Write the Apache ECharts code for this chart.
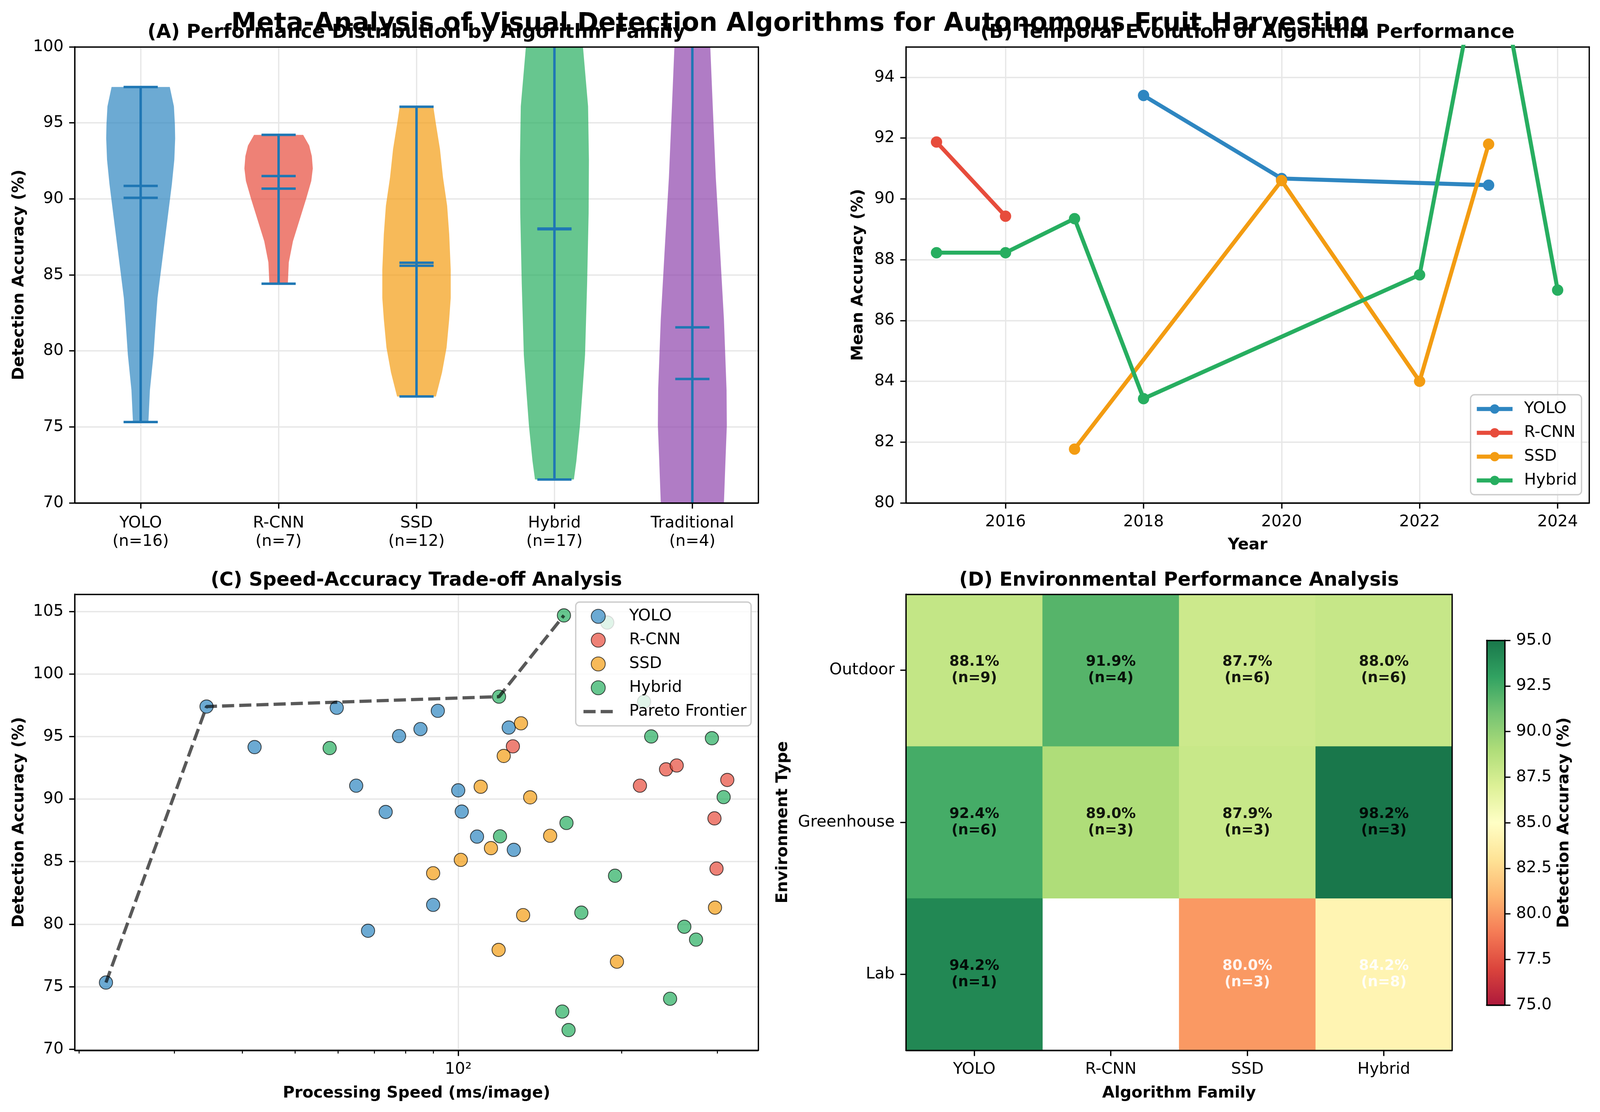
<!DOCTYPE html>
<html><head><meta charset="utf-8">
<script src="https://cdn.jsdelivr.net/npm/echarts@6/dist/echarts.min.js"></script>
<style>html,body{margin:0;padding:0;background:#fff;overflow:hidden}#c{width:100vw;height:2848px}</style>
</head><body><div id="c"></div>
<script>
const families = ['YOLO','R-CNN','SSD','Hybrid','Traditional'];
const familyCounts = [16,7,12,17,4];
const familyColors = ['#2E86C1','#E74C3C','#F39C12','#27AE60','#8E44AD'];

const yoloLevels = [97.36,96.08,94.91,93.98,92.58,90.95,89.08,87.21,85.35,83.48,81.62,79.75,77.42,75.32];
const yoloWidths = [.211,.241,.248,.25,.244,.226,.2,.174,.148,.122,.107,.093,.067,.056];
const rcnnLevels = [94.21,93.51,92.81,92.0,91.18,90.01,88.61,87.21,85.82,84.42];
const rcnnWidths = [.178,.222,.241,.248,.237,.2,.152,.104,.074,.067];
const ssdLevels = [96.06,94.91,93.28,91.41,89.55,87.68,85.35,83.48,82.08,80.22,78.58,77.0];
const ssdWidths = [.122,.141,.17,.192,.222,.237,.248,.248,.237,.218,.185,.141];
const hybridLevels = [104.69,102,100,98.41,96.08,92.58,89.08,84.42,79.75,77.42,75.09,72.75,71.54];
const hybridWidths = [.13,.178,.207,.222,.244,.25,.248,.237,.222,.204,.185,.159,.141];
const tradLevels = [104,100,96.08,91.41,86.75,82.08,77.42,75.09,72.75,70,67,63];
const tradWidths = [.11,.13,.148,.17,.2,.229,.248,.25,.24,.229,.19,.12];
const violinMax = [97.36,94.21,96.06,104.69,104];
const violinMin = [75.32,84.42,77.0,71.54,63];
const violinMedian = [90.85,91.5,85.8,88.0,81.55];
const violinMean = [90.07,90.67,85.6,88.05,78.15];

const yoloTrend = [[2018,93.4],[2020,90.67],[2023,90.45]];
const rcnnTrend = [[2015,91.87],[2016,89.43]];
const ssdTrend = [[2017,81.77],[2020,90.6],[2022,84.0],[2023,91.8]];
const hybridTrend = [[2015,88.23],[2016,88.23],[2017,89.35],[2018,83.43],[2022,87.5],[2023,99.4],[2024,87.0]];

const yoloScatter = [[22.43,75.33],[34.37,97.4],[42.14,94.16],[59.72,97.3],[64.86,91.07],[73.5,88.97],[77.8,95.04],[85.2,95.6],[91.7,97.06],[68.2,79.47],[89.9,81.54],[100,90.7],[101.5,89.0],[108.3,87.0],[123.9,95.72],[126.6,85.94]];
const rcnnScatter = [[126.1,94.22],[216.2,91.07],[241.5,92.38],[252.7,92.69],[296.6,88.46],[299.2,84.44],[313.2,91.53]];
const ssdScatter = [[130.5,96.06],[121.3,93.45],[110,90.99],[135.7,90.14],[147.7,87.07],[114.9,86.08],[101.1,85.14],[89.9,84.07],[131.7,80.72],[118.7,77.94],[196.1,77.0],[297.3,81.32]];
const hybridScatter = [[156.6,104.69],[188.2,104.12],[118.9,98.19],[220,97.79],[226.8,95.01],[293.4,94.87],[57.95,94.08],[308.4,90.16],[158.3,88.09],[119.4,87.02],[194.5,83.87],[168.6,80.92],[261,79.79],[274.3,78.76],[245.7,74.03],[155.5,73.01],[159.7,71.53]];
const paretoFrontier = [[22.43,75.33],[34.37,97.4],[118.9,98.19],[156.6,104.69]];

const envTypes = ['Lab','Greenhouse','Outdoor'];
const heatFamilies = ['YOLO','R-CNN','SSD','Hybrid'];
const labAccuracy = [94.2,null,80.0,84.2];
const greenhouseAccuracy = [92.4,89.0,87.9,98.2];
const outdoorAccuracy = [88.1,91.9,87.7,88.0];
const labCounts = [1,null,3,8];
const greenhouseCounts = [6,3,3,3];
const outdoorCounts = [9,4,6,6];
const rdYlGn = ['#a50026','#d73027','#f46d43','#fdae61','#fee08b','#ffffbf','#d9ef8b','#a6d96a','#66bd63','#1a9850','#006837'];

// The browser window is narrower than the nominal page width: lay out proportionally.
const W = Math.min(window.innerWidth || 4166, 4166);
const kx = W/4166;
const F = 'DejaVu Sans';
const TICK = 41.67*kx, LW = 3.33, TL = 14.6, GRIDC = '#e7e7e7';
const familyLevels = [yoloLevels,rcnnLevels,ssdLevels,hybridLevels,tradLevels];
const familyWidths = [yoloWidths,rcnnWidths,ssdWidths,hybridWidths,tradWidths];

const grids = [
  {left:195*kx,top:120,width:1779*kx,height:1168},
  {left:2359*kx,top:120,width:1779*kx,height:1168},
  {left:195*kx,top:1522,width:1779*kx,height:1168},
  {left:2359*kx,top:1522,width:1422*kx,height:1168},
  {left:3871*kx,top:1640,width:47*kx,height:934}
];
const line = {show:true,onZero:false,lineStyle:{color:'#000',width:LW}};
const tick = (extra)=>Object.assign({show:true,length:TL,lineStyle:{color:'#000',width:LW}},extra||{});
const label = (extra)=>Object.assign({show:true,color:'#000',fontFamily:F,fontSize:TICK,margin:29},extra||{});
const split = (show)=>({show,lineStyle:{color:GRIDC,width:LW}});
const nameStyle = {color:'#000',fontFamily:F,fontSize:TICK,fontWeight:'bold'};

const xAxes = [], yAxes = [];
function spineX(g,position){xAxes.push({gridIndex:g,type:'value',position,min:0,max:1,z:6,axisLine:line,axisTick:{show:false},axisLabel:{show:false},splitLine:{show:false}});}
function spineY(g,position){yAxes.push({gridIndex:g,type:'value',position,min:0,max:1,z:6,axisLine:line,axisTick:{show:false},axisLabel:{show:false},splitLine:{show:false}});}

// A
const aTicks=[1,2,3,4,5];
xAxes.push({gridIndex:0,type:'value',min:0.523,max:5.477,axisLine:line,
  axisTick:tick({customValues:aTicks}),
  axisLabel:label({customValues:aTicks,lineHeight:47,hideOverlap:false,formatter:v=>families[v-1]+'\n(n='+familyCounts[v-1]+')'}),
  splitLine:split(true)});
yAxes.push({gridIndex:0,type:'value',min:70,max:100,interval:5,axisLine:line,axisTick:tick(),axisLabel:label(),splitLine:split(true),
  name:'Detection Accuracy (%)',nameLocation:'middle',nameGap:122,nameTextStyle:nameStyle});
// B
const bxTicks=[2016,2018,2020,2022,2024], byTicks=[80,82,84,86,88,90,92,94];
xAxes.push({gridIndex:1,type:'value',min:2014.558,max:2024.458,axisLine:line,
  axisTick:tick({customValues:bxTicks}),axisLabel:label({customValues:bxTicks,formatter:v=>String(v)}),splitLine:split(true),
  name:'Year',nameLocation:'middle',nameGap:88,nameTextStyle:nameStyle});
yAxes.push({gridIndex:1,type:'value',min:80,max:95,axisLine:line,axisTick:tick({customValues:byTicks}),axisLabel:label({customValues:byTicks}),splitLine:split(true),
  name:'Mean Accuracy (%)',nameLocation:'middle',nameGap:102,nameTextStyle:nameStyle});
// C
const cyTicks=[70,75,80,85,90,95,100,105], cMinor=[20,30,40,50,60,70,80,90,200,300];
xAxes.push({gridIndex:2,type:'log',logBase:10,min:19.66,max:357,axisLine:line,
  axisTick:tick({customValues:[100]}),axisLabel:label({customValues:[100],formatter:()=>'10²'}),splitLine:split(true),minorTick:{show:false},minorSplitLine:{show:false},
  name:'Processing Speed (ms/image)',nameLocation:'middle',nameGap:90,nameTextStyle:nameStyle});
yAxes.push({gridIndex:2,type:'value',min:69.91,max:106.38,axisLine:line,axisTick:tick({customValues:cyTicks}),axisLabel:label({customValues:cyTicks}),splitLine:split(true),
  name:'Detection Accuracy (%)',nameLocation:'middle',nameGap:122,nameTextStyle:nameStyle});
// D
xAxes.push({gridIndex:3,type:'category',data:heatFamilies,axisLine:line,axisTick:tick({alignWithLabel:true}),axisLabel:label(),splitLine:{show:false},
  name:'Algorithm Family',nameLocation:'middle',nameGap:90,nameTextStyle:nameStyle});
yAxes.push({gridIndex:3,type:'category',data:envTypes,axisLine:line,axisTick:tick({alignWithLabel:true}),axisLabel:label(),splitLine:{show:false},
  name:'Environment Type',nameLocation:'middle',nameGap:300*kx,nameTextStyle:nameStyle});
// Colorbar
xAxes.push({gridIndex:4,type:'value',min:0,max:1,axisLine:line,axisTick:{show:false},axisLabel:{show:false},splitLine:{show:false}});
yAxes.push({gridIndex:4,type:'value',position:'right',min:75,max:95,interval:2.5,axisLine:line,axisTick:tick(),axisLabel:label({formatter:v=>v.toFixed(1)}),splitLine:{show:false},
  name:'Detection Accuracy (%)',nameLocation:'middle',nameRotate:90,nameGap:134*kx,nameTextStyle:nameStyle});
// Frame of every plot, above the marks
[0,1,2,3,4].forEach(g=>{spineX(g,'top');spineX(g,'bottom');spineY(g,'left');spineY(g,'right');});
const idx = g=>({xAxisIndex:g,yAxisIndex:g});
// minor ticks on the log axis of panel C
xAxes.push({gridIndex:2,type:'log',logBase:10,min:19.66,max:357,position:'bottom',axisLine:{show:false},
  axisTick:{show:true,length:8.3,lineStyle:{color:'#000',width:2.5},customValues:cMinor},axisLabel:{show:false},splitLine:{show:false},minorTick:{show:false}});

const series = [];
// Violins
series.push({type:'custom',...idx(0),clip:true,z:3,data:aTicks.map(v=>[v]),
  renderItem(params,api){
    const i=params.dataIndex,pos=api.value(0),lv=familyLevels[i],wd=familyWidths[i];
    const L=[],R=[];
    lv.forEach((y,k)=>{L.push(api.coord([pos-wd[k],y]));R.unshift(api.coord([pos+wd[k],y]));});
    const seg=(x0,y0,x1,y1)=>{const a=api.coord([x0,y0]),b=api.coord([x1,y1]);
      return {type:'line',shape:{x1:a[0],y1:a[1],x2:b[0],y2:b[1]},style:{stroke:'#1f77b4',lineWidth:6.25}};};
    const cap=.124;
    const kids=[{type:'polygon',shape:{points:L.concat(R)},style:{fill:familyColors[i],opacity:.7}},
      seg(pos,violinMin[i],pos,violinMax[i]),
      seg(pos-cap,violinMin[i],pos+cap,violinMin[i]),
      seg(pos-cap,violinMax[i],pos+cap,violinMax[i]),
      seg(pos-cap,violinMedian[i],pos+cap,violinMedian[i]),
      seg(pos-cap,violinMean[i],pos+cap,violinMean[i])];
    const r=params.coordSys;
    return {type:'group',children:kids,clipPath:{type:'rect',shape:{x:r.x,y:r.y,width:r.width,height:r.height}}};
  }});
// Trends
[[yoloTrend,0],[rcnnTrend,1],[ssdTrend,2],[hybridTrend,3]].forEach(([d,i])=>{
  series.push({type:'line',name:families[i],...idx(1),data:d,clip:true,z:3+i,
    symbol:'circle',symbolSize:29,showSymbol:true,showAllSymbol:true,
    lineStyle:{color:familyColors[i],width:10.4},itemStyle:{color:familyColors[i]}});
});
// Scatter
[[yoloScatter,0],[rcnnScatter,1],[ssdScatter,2],[hybridScatter,3]].forEach(([d,i])=>{
  series.push({type:'scatter',name:families[i]+' (speed)',...idx(2),data:d,z:3,symbol:'circle',symbolSize:34,
    itemStyle:{color:familyColors[i],opacity:.7,borderColor:'#000',borderWidth:2.1}});
});
series.push({type:'line',name:'Pareto Frontier',...idx(2),data:paretoFrontier,z:4,symbol:'none',
  lineStyle:{color:'#000',opacity:.65,width:8.3,type:[31,13]},itemStyle:{color:'#000',opacity:.65}});
// Heatmap
const heatData=[];
[labAccuracy,greenhouseAccuracy,outdoorAccuracy].forEach((row,r)=>{
  const cnt=[labCounts,greenhouseCounts,outdoorCounts][r];
  row.forEach((v,c)=>{ if(v!==null) heatData.push({value:[c,r,v,cnt[c]],label:{color:v<85?'#fff':'#000'}}); });
});
const heatIndex=series.length;
series.push({type:'heatmap',...idx(3),data:heatData,z:3,itemStyle:{opacity:.9},
  label:{show:true,fontFamily:F,fontSize:37.5*kx,fontWeight:'bold',lineHeight:42,
    formatter:p=>p.value[2].toFixed(1)+'%\n(n='+p.value[3]+')'}});
// Colorbar
series.push({type:'custom',...idx(4),z:3,data:[[0,75,1,95]],
  renderItem(params,api){
    const a=api.coord([api.value(0),api.value(1)]),b=api.coord([api.value(2),api.value(3)]);
    const stops=rdYlGn.map((c,k)=>({offset:k/(rdYlGn.length-1),color:c}));
    return {type:'rect',shape:{x:a[0],y:b[1],width:b[0]-a[0],height:a[1]-b[1]},
      style:{fill:new echarts.graphic.LinearGradient(0,1,0,0,stops),opacity:.9}};
  }});

const titleStyle={color:'#000',fontFamily:F,fontWeight:'bold',fontSize:50*kx};
const legendBase={orient:'vertical',backgroundColor:'rgba(255,255,255,0.8)',borderColor:'#cccccc',borderWidth:3.3,borderRadius:10,
  selectedMode:false,z:20};
const option={
  animation:false,backgroundColor:'#fff',
  title:[
    {text:'(A) Performance Distribution by Algorithm Family',left:1084*kx,top:60,textAlign:'center',textStyle:titleStyle,padding:0},
    {text:'(B) Temporal Evolution of Algorithm Performance',left:3248*kx,top:60,textAlign:'center',textStyle:titleStyle,padding:0},
    {text:'(C) Speed-Accuracy Trade-off Analysis',left:1084*kx,top:1463,textAlign:'center',textStyle:titleStyle,padding:0},
    {text:'(D) Environmental Performance Analysis',left:3070*kx,top:1463,textAlign:'center',textStyle:titleStyle,padding:0},
    {text:'Meta-Analysis of Visual Detection Algorithms for Autonomous Fruit Harvesting',left:2083*kx,top:29,textAlign:'center',textStyle:Object.assign({},titleStyle,{fontSize:66.67*kx}),padding:0}
  ],
  grid:grids.map(g=>Object.assign({containLabel:false},g)),
  xAxis:xAxes,yAxis:yAxes,
  visualMap:{show:false,type:'continuous',seriesIndex:heatIndex,dimension:2,min:75,max:95,inRange:{color:rdYlGn},outOfRange:{color:rdYlGn[10]}},
  legend:[
    Object.assign({},legendBase,{left:3829*kx,top:1011,padding:[16,12*kx,16,11*kx],itemWidth:93*kx,itemHeight:30,itemGap:20,
      lineStyle:{width:10.4},
      data:families.slice(0,4),textStyle:{color:'#000',fontFamily:F,fontSize:TICK,padding:[0,0,0,25*kx]}}),
    Object.assign({},legendBase,{left:1499*kx,top:1542,padding:[16,12*kx,16,16*kx],itemWidth:77*kx,itemHeight:36,itemGap:20,
      data:['YOLO (speed)','R-CNN (speed)','SSD (speed)','Hybrid (speed)',
        {name:'Pareto Frontier',itemStyle:{opacity:0},lineStyle:{color:'#000',width:8.3,type:[31,13]}}],
      formatter:n=>n.replace(' (speed)',''),
      textStyle:{color:'#000',fontFamily:F,fontSize:TICK,padding:[0,0,0,37*kx]}})
  ],
  series
};
const chart=echarts.init(document.getElementById('c'),null,{renderer:'canvas',width:W,height:2848,devicePixelRatio:1});
chart.setOption(option);
</script></body></html>
